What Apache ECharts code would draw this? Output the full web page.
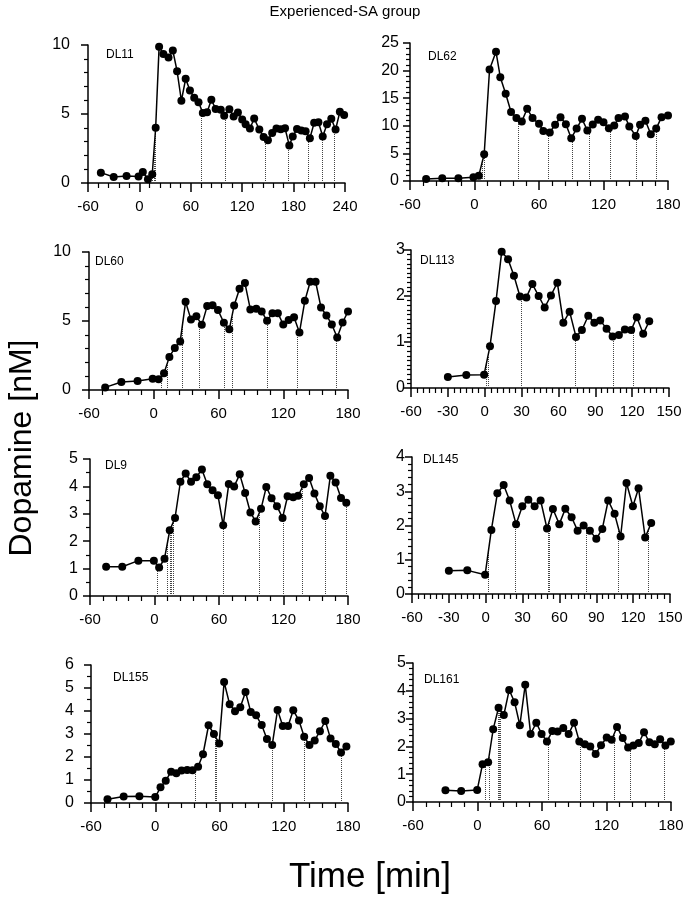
<!DOCTYPE html>
<html><head><meta charset="utf-8">
<script src="https://cdn.jsdelivr.net/npm/echarts@6/dist/echarts.min.js"></script>
<style>html,body{margin:0;padding:0;background:#fff}#c{width:690px;height:899px}</style>
</head><body><div id="c"></div>
<script>
// ---------- DATA ----------
const dl11Time = [-45,-30,-15,-1,4,10,15,19,23,28,34,39,44,49,54,59,64,69,74,79,84,89,95,99,105,110,115,120,124,129,134,140,145,150,155,160,165,170,175,179,184,189,194,199,204,209,214,219,224,229,234,239];
const dl11Da   = [0.75,0.44,0.51,0.48,0.8,0.27,0.63,4.0,9.88,9.35,9.1,9.6,8.1,5.96,7.55,6.7,6.17,5.86,5.08,5.13,6.03,5.37,5.3,4.87,5.35,4.82,5.1,4.6,4.26,3.95,4.67,3.87,3.34,3.1,3.63,3.95,3.9,3.97,2.71,3.37,3.92,3.8,3.75,3.24,4.36,4.4,3.37,4.26,4.65,3.87,5.16,4.92];
const dl11Drops = [15.5,17,18.5,72.5,100,147,174,197,213,227];

const dl62Time = [-45,-30,-15,-1,4,9,14,20,24,29,34,39,44,49,54,60,64,70,75,80,85,90,95,100,105,110,115,120,125,130,134,140,144,150,154,159,164,169,174,180];
const dl62Da   = [0.36,0.48,0.48,0.67,0.97,4.84,20.2,23.4,18.8,15.8,12.5,11.4,10.8,13.1,11.4,10.35,9.08,8.78,10.2,11.56,10.3,7.75,9.5,11.26,9.14,10.23,11.1,10.65,9.56,10.05,11.4,11.7,9.87,8.17,10.17,10.9,8.47,9.5,11.56,11.86];
const dl62Drops = [7,9.5,40.7,69,91,107,126,150,169];

const dl60Time = [-45,-30,-15,-1,4.5,9.5,14.5,19.5,24.5,29.5,34.5,39.5,44.5,49.5,54.5,59.5,65,70,74.5,79.5,84.5,89.5,95,100,105,110,115,120,125,130,135,140,145,150,155,160,165,170,175,180];
const dl60Da   = [0.19,0.58,0.65,0.82,0.77,1.21,2.4,3.05,3.51,6.39,5.1,5.35,4.72,6.08,6.15,5.79,4.87,4.4,6.13,7.34,7.75,5.84,5.88,5.69,5.01,5.57,5.57,4.75,5.08,5.28,4.16,6.46,7.84,7.84,5.98,5.4,4.75,3.8,4.89,5.69];
const dl60Drops = [7,12.6,26.6,41.9,65.6,72.4,105,133,169];

const dl113Time = [-30,-15,-0.5,4.3,9.2,13.8,19,23.8,28.7,33.9,38.8,43.9,48.8,53.9,59.1,64,69.1,74.3,79.1,84.3,89.2,94,99.2,104.1,109.2,114.1,119.2,123.8,129,133.9];
const dl113Da   = [0.24,0.28,0.29,0.91,1.89,2.96,2.8,2.44,1.99,1.97,2.26,2.0,1.75,2.01,2.29,1.42,1.66,1.11,1.26,1.57,1.42,1.47,1.29,1.12,1.15,1.27,1.26,1.54,1.18,1.45];
const dl113Drops = [1.6,2.6,30,73.4,105,120.6];

const dl9Time = [-45,-30,-15,-0.6,4.3,9.3,14.2,19.1,24.1,29,34,38.9,44.1,49.1,54,59,63.9,69.1,74.1,79.3,84.3,89.2,94.1,99.1,104,108.9,113.9,119.1,123.8,129,133.6,138.9,143.8,148.8,153.7,158.6,163.6,168.5,173.5,178.4];
const dl9Da   = [1.07,1.07,1.29,1.29,1.04,1.36,2.4,2.85,4.17,4.47,4.17,4.33,4.62,4.08,3.86,3.68,2.58,4.09,4.0,4.44,3.76,3.05,2.72,3.18,3.98,3.57,3.28,2.85,3.64,3.6,3.66,4.08,4.31,3.74,3.28,2.92,4.39,4.14,3.58,3.4];
const dl9Drops = [3,12.3,14.2,16,17.6,63.5,97,120,137.6,158.6,178.7];

const dl145Time = [-30,-15,-0.5,4.6,9.5,14.6,19.5,24.7,29.8,34.7,39.8,44.7,49.9,54.7,59.9,64.8,69.9,74.8,79.7,84.8,90,94.9,99.7,104.9,109.8,114.6,119.8,124.4,129.8,134.7];
const dl145Da   = [0.68,0.69,0.56,1.87,2.94,3.18,2.73,2.04,2.56,2.75,2.56,2.73,1.91,2.48,2.04,2.49,2.24,1.85,2.0,1.85,1.61,1.9,2.73,2.34,1.68,3.24,2.56,3.09,1.65,2.07];
const dl145Drops = [2,24,51,52,82,108,132];

const dl155Time = [-44.6,-29.5,-14.8,0,4.9,9.8,14.8,19.7,24.6,29.8,34.8,40,44.6,49.8,54.8,59.7,64.3,69.5,74.5,79.4,84.3,89.2,94.2,99.4,104.3,109.2,114.2,119.1,124,128.9,134.2,139.1,144,148.9,153.8,158.8,163.7,168.6,173.5,178.5];
const dl155Da   = [0.16,0.28,0.29,0.26,0.68,0.97,1.36,1.29,1.41,1.43,1.42,1.58,2.12,3.38,3.0,2.59,5.26,4.29,3.99,4.16,4.83,3.96,3.81,3.39,2.78,2.52,4.04,3.35,3.35,4.03,3.59,2.88,2.52,2.72,3.12,3.57,2.8,2.57,2.2,2.46];
const dl155Drops = [36.9,56,57,109,138.8,173.8];

const dl161Time = [-29.8,-15.2,-0.3,4.7,9.9,14.6,19.6,24.5,29.5,34.5,39.4,44.4,49.4,54.7,59.6,64.6,69.6,74.5,79.8,84.8,89.8,94.7,99.8,104.9,109.9,114.9,120.2,124.8,129.8,135.1,140.1,145,150,154.9,159.9,164.9,169.9,174.8,179.8];
const dl161Da   = [0.42,0.4,0.43,1.36,1.43,2.62,3.39,3.13,4.03,3.59,2.76,4.22,2.45,2.85,2.45,2.18,2.55,2.54,2.66,2.45,2.85,2.18,2.08,2.0,1.73,2.04,2.32,2.24,2.7,2.3,1.96,2.03,2.12,2.51,2.15,2.08,2.26,2.03,2.18];
const dl161Drops = [7,10.6,19.3,20.5,21.4,65.8,96,127.3,142.5,173.6];

const titleText = 'Experienced-SA group';
const yTitle = 'Dopamine [nM]';
const xTitle = 'Time [min]';

// ---------- PANELS (layout/style) ----------
const panels = [
  {name:'DL11', t:dl11Time, v:dl11Da, d:dl11Drops, g:[88,45,257,138], xMax:240, xInt:60, xMinor:5, yMax:10, yInt:5, yMinor:5, lab:[106,55], ym:18},
  {name:'DL62', t:dl62Time, v:dl62Da, d:dl62Drops, g:[410,43,258,138], xMax:180, xInt:60, xMinor:5, yMax:25, yInt:5, yMinor:5, lab:[428,57], ym:11},
  {name:'DL60', t:dl60Time, v:dl60Da, d:dl60Drops, g:[89,252,259,138], xMax:180, xInt:60, xMinor:5, yMax:10, yInt:5, yMinor:5, lab:[95,262], ym:18},
  {name:'DL113', t:dl113Time, v:dl113Da, d:dl113Drops, g:[411,250,258,138], xMax:150, xInt:30, xMinor:6, yMax:3, yInt:1, yMinor:10, lab:[420,261], ym:6},
  {name:'DL9', t:dl9Time, v:dl9Da, d:dl9Drops, g:[90,459,258,137], xMax:180, xInt:60, xMinor:5, yMax:5, yInt:1, yMinor:2, lab:[105,466], ym:12},
  {name:'DL145', t:dl145Time, v:dl145Da, d:dl145Drops, g:[412,457,258,137], xMax:150, xInt:30, xMinor:6, yMax:4, yInt:1, yMinor:5, lab:[423,460], ym:7},
  {name:'DL155', t:dl155Time, v:dl155Da, d:dl155Drops, g:[91,665,257,138], xMax:180, xInt:60, xMinor:5, yMax:6, yInt:1, yMinor:2, lab:[113,678], ym:17},
  {name:'DL161', t:dl161Time, v:dl161Da, d:dl161Drops, g:[413,663,258,139], xMax:180, xInt:60, xMinor:5, yMax:5, yInt:1, yMinor:5, lab:[424,680], ym:7}
];

function interp(ts, vs, x){
  for (let i=0;i<ts.length-1;i++){
    if (x>=ts[i] && x<=ts[i+1]) return vs[i] + (vs[i+1]-vs[i])*(x-ts[i])/(ts[i+1]-ts[i]);
  }
  return x<ts[0]?vs[0]:vs[vs.length-1];
}

const FONT = '"Liberation Sans", Arial, sans-serif';
const grid=[], xAxis=[], yAxis=[], series=[], graphic=[];
panels.forEach((p,i)=>{
  grid.push({left:p.g[0], top:p.g[1], width:p.g[2], height:p.g[3]});
  xAxis.push({type:'value', gridIndex:i, min:-60, max:p.xMax, interval:p.xInt, position:'bottom',
    axisLine:{show:true, onZero:false, lineStyle:{color:'#000', width:1.5}},
    axisTick:{show:true, inside:false, length:9, lineStyle:{color:'#000', width:1.5}},
    minorTick:{show:true, splitNumber:p.xMinor, length:5, lineStyle:{color:'#000', width:1.2}},
    axisLabel:{color:'#000', fontSize:15, fontFamily:FONT, margin:16, showMaxLabel:true, showMinLabel:true},
    splitLine:{show:false}, minorSplitLine:{show:false}});
  yAxis.push({type:'value', gridIndex:i, min:0, max:p.yMax, interval:p.yInt, position:'left',
    axisLine:{show:true, onZero:false, lineStyle:{color:'#000', width:1.5}},
    axisTick:{show:true, inside:false, length:7, lineStyle:{color:'#000', width:1.5}},
    minorTick:{show:true, splitNumber:p.yMinor, length:4, lineStyle:{color:'#000', width:1.2}},
    axisLabel:{color:'#000', fontSize:16, fontFamily:FONT, margin:p.ym},
    splitLine:{show:false}, minorSplitLine:{show:false}});
  const drops = p.d.map(x=>[{coord:[x,0]},{coord:[x, interp(p.t,p.v,x)]}]);
  series.push({type:'line', xAxisIndex:i, yAxisIndex:i, data:p.t.map((t,k)=>[t,p.v[k]]),
    symbol:'circle', symbolSize:8, itemStyle:{color:'#000'}, lineStyle:{color:'#000', width:1.5},
    z:3,
    markLine:{silent:true, symbol:'none', label:{show:false}, animation:false,
      lineStyle:{color:'#444', type:'dotted', width:1}, data:drops, z:1}});
  graphic.push({type:'text', left:p.lab[0], top:p.lab[1]-6, style:{text:p.name, font:'12px '+FONT, fill:'#000'}});
});
graphic.push({type:'text', left:'center', top:4, style:{text:titleText, font:'15px '+FONT, fill:'#000'}});
graphic.push({type:'text', x:22, y:448, rotation:Math.PI/2, style:{text:yTitle, font:'32px '+FONT, fill:'#000', align:'center', verticalAlign:'middle'}});
graphic.push({type:'text', x:370, y:877, style:{text:xTitle, font:'35px '+FONT, fill:'#000', align:'center', verticalAlign:'middle'}});

const chart = echarts.init(document.getElementById('c'), null, {renderer:'canvas'});
chart.setOption({animation:false, backgroundColor:'#fff', grid, xAxis, yAxis, series, graphic});
</script></body></html>
